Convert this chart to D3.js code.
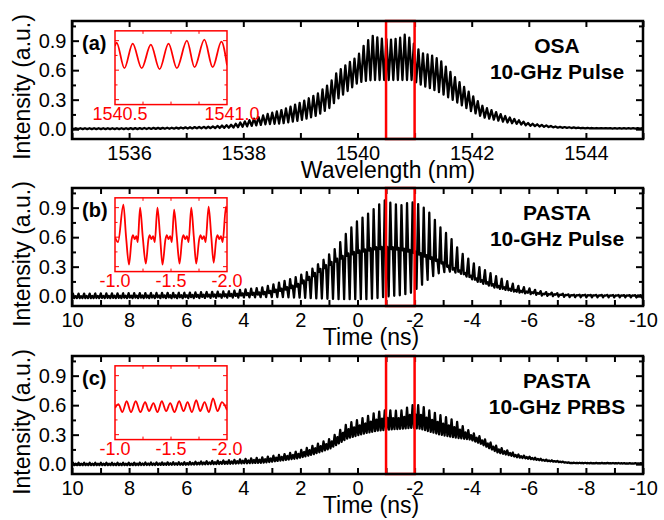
<!DOCTYPE html>
<html>
<head>
<meta charset="utf-8">
<script src="https://cdn.jsdelivr.net/npm/d3@7"></script>
<style>
  body { margin: 0; background: #fff; }
  svg { display: block; font-family: "Liberation Sans", Arial, sans-serif; }
</style>
</head>
<body>
<div id="plot"></div>
<script>
// ---- values ----

// (a) OSA spectrum: top and bottom of the 10-GHz comb lines
const wavelengthNm = [1535, 1536, 1536.8, 1537.4, 1537.8, 1538.1, 1538.4, 1538.7, 1539.0, 1539.3, 1539.52, 1539.64, 1539.81, 1540.0, 1540.13, 1540.26, 1540.42, 1540.6, 1540.75, 1540.85, 1540.95, 1541.05, 1541.15, 1541.3, 1541.45, 1541.6, 1541.75, 1542.0, 1542.2, 1542.6, 1543.0, 1543.5, 1544, 1545];
const osaPeak =   [0.01, 0.01, 0.015, 0.025, 0.045, 0.09, 0.15, 0.2, 0.27, 0.36, 0.47, 0.58, 0.66, 0.74, 0.87, 0.95, 0.92, 0.91, 0.93, 0.97, 0.9, 0.82, 0.77, 0.75, 0.7, 0.6, 0.5, 0.35, 0.23, 0.13, 0.06, 0.025, 0.012, 0.01];
const osaValley = [0.0, 0.0, 0.005, 0.01, 0.015, 0.03, 0.05, 0.06, 0.09, 0.14, 0.22, 0.3, 0.38, 0.47, 0.49, 0.5, 0.5, 0.5, 0.5, 0.5, 0.5, 0.47, 0.44, 0.41, 0.37, 0.32, 0.27, 0.18, 0.12, 0.07, 0.035, 0.015, 0.008, 0.005];

// (a) inset: turning points of the trace between 1540.5 and 1541.0 nm
const insetAWavelength = [1540.5, 1540.507, 1540.542, 1540.579, 1540.619, 1540.66, 1540.699, 1540.739, 1540.776, 1540.821, 1540.855, 1540.899, 1540.936, 1540.975, 1541.0];
const insetAIntensity =  [0.845, 0.88, 0.62, 0.87, 0.62, 0.86, 0.61, 0.87, 0.62, 0.9, 0.63, 0.91, 0.63, 0.89, 0.65];

// (b) PASTA, 10-GHz pulse: pulse tops, shoulder level and valleys
const pulseTime =     [10, 8, 6, 4.5, 3.3, 2.6, 2.1, 1.66, 1.19, 0.72, 0.37, 0.02, -0.33, -0.68, -0.91, -1.15, -1.5, -1.85, -2.2, -2.55, -2.9, -3.25, -3.6, -4.17, -4.87, -5.57, -6.5, -7.5, -10];
const pulsePeak =     [0.025, 0.03, 0.035, 0.05, 0.09, 0.15, 0.2, 0.26, 0.37, 0.5, 0.65, 0.76, 0.83, 0.91, 0.98, 0.95, 0.92, 0.96, 0.93, 0.84, 0.7, 0.6, 0.45, 0.31, 0.2, 0.11, 0.045, 0.015, 0.01];
const pulseShoulder = [0.0, 0.005, 0.01, 0.02, 0.04, 0.08, 0.12, 0.2, 0.3, 0.38, 0.43, 0.46, 0.48, 0.5, 0.5, 0.5, 0.49, 0.47, 0.44, 0.4, 0.36, 0.3, 0.26, 0.18, 0.11, 0.06, 0.025, 0.01, 0.007];
const pulseValley =   [-0.02, -0.02, -0.02, -0.015, -0.01, -0.01, -0.015, -0.02, -0.025, -0.03, -0.03, -0.03, -0.03, -0.02, -0.01, 0.0, 0.01, 0.03, 0.1, 0.19, 0.24, 0.25, 0.23, 0.15, 0.08, 0.045, 0.02, 0.008, 0.005];

// (b) inset: trace between -1.0 and -2.0 ns
const insetBTime = [-1.0, -1.027, -1.075, -1.099, -1.125, -1.149, -1.161, -1.176, -1.191, -1.203, -1.224, -1.248, -1.275, -1.299, -1.31, -1.325, -1.34, -1.355, -1.379, -1.403, -1.424, -1.451, -1.463, -1.478, -1.493, -1.507, -1.528, -1.552, -1.576, -1.6, -1.612, -1.627, -1.642, -1.657, -1.681, -1.704, -1.725, -1.752, -1.764, -1.779, -1.794, -1.809, -1.836, -1.86, -1.881, -1.904, -1.916, -1.931, -1.946, -1.961, -1.991, -2.0];
const insetBIntensity = [0.6, 0.55, 0.93, 0.6, 0.32, 0.58, 0.62, 0.58, 0.61, 0.55, 0.9, 0.6, 0.33, 0.58, 0.62, 0.58, 0.61, 0.55, 0.9, 0.6, 0.32, 0.58, 0.62, 0.58, 0.61, 0.55, 0.88, 0.6, 0.33, 0.58, 0.62, 0.58, 0.61, 0.55, 0.9, 0.6, 0.33, 0.58, 0.62, 0.58, 0.61, 0.55, 0.91, 0.6, 0.34, 0.58, 0.62, 0.58, 0.61, 0.55, 0.91, 0.85];

// (c) PASTA, 10-GHz PRBS: tops and valleys
const prbsTime =   [10, 8, 6, 4.46, 3.3, 2.6, 2.1, 1.55, 0.95, 0.37, -0.2, -0.68, -1.03, -1.5, -1.9, -2.2, -2.55, -2.9, -3.44, -3.95, -4.3, -4.9, -5.6, -6.5, -7.5, -10];
const prbsPeak =   [0.015, 0.015, 0.02, 0.04, 0.07, 0.1, 0.13, 0.19, 0.26, 0.41, 0.47, 0.53, 0.55, 0.54, 0.6, 0.6, 0.54, 0.5, 0.44, 0.33, 0.28, 0.18, 0.1, 0.05, 0.015, 0.01];
const prbsValley = [-0.01, -0.01, -0.005, 0.005, 0.015, 0.04, 0.06, 0.1, 0.16, 0.26, 0.31, 0.34, 0.35, 0.36, 0.37, 0.36, 0.33, 0.3, 0.27, 0.25, 0.21, 0.12, 0.07, 0.035, 0.01, 0.005];

// (c) inset
const insetCTime = [-1.0, -1.03, -1.066, -1.104, -1.143, -1.185, -1.227, -1.269, -1.304, -1.343, -1.379, -1.418, -1.457, -1.493, -1.531, -1.573, -1.612, -1.648, -1.687, -1.725, -1.761, -1.8, -1.839, -1.875, -1.916, -1.955, -2.0];
const insetCIntensity = [0.57, 0.61, 0.53, 0.64, 0.53, 0.64, 0.53, 0.63, 0.54, 0.62, 0.53, 0.64, 0.54, 0.62, 0.53, 0.64, 0.54, 0.63, 0.53, 0.65, 0.54, 0.63, 0.53, 0.67, 0.54, 0.63, 0.55];

// line spacing as it shows in the full-span traces, and where one line sits
const combSpacingNm = 0.08, combLineNm = 1540.507;
const pulseSpacingNs = 0.195, pulseLineNs = -1.15;

// axes
const wavelengthTicks = d3.range(1535, 1545.5, 1);
const wavelengthLabels = [1536, 1538, 1540, 1542, 1544];
const timeTicks = d3.range(-10, 10.5, 1);
const timeLabels = [10, 8, 6, 4, 2, 0, -2, -4, -6, -8, -10];
const intensityTicks = [0, 0.3, 0.6, 0.9];
const intensityMinor = [0.15, 0.45, 0.75, 1.05];
const zoomWindows = [[1540.5, 1541.0], [-1.0, -2.0], [-1.0, -2.0]];
const insetLabels = [[1540.5, 1541.0], [-1.0, -1.5, -2.0], [-1.0, -1.5, -2.0]];
const insetMinor = [[1540.625, 1540.75, 1540.875], [-1.25, -1.5, -1.75], [-1.25, -1.5, -1.75]];
const panelTags = ["(a)", "(b)", "(c)"];
const panelTitles = [["OSA", "10-GHz Pulse"], ["PASTA", "10-GHz Pulse"], ["PASTA", "10-GHz PRBS"]];

// ---- layout ----
const width = 664, height = 520;
const left = 72, right = 643;
const panelTops = [21, 188, 356];
const panelH = 118;
const red = "#ff0000";

const svg = d3.select("#plot").append("svg")
  .attr("width", width).attr("height", height);

// trace through each line top and valley of the envelopes;
// "shape" picks how the space between two tops is filled
function combTrace(domain, spacing, phase, peak, valley, shoulder, shape) {
  const lo = d3.min(domain), hi = d3.max(domain);
  const k0 = Math.floor((lo - phase) / spacing) - 1;
  const k1 = Math.ceil((hi - phase) / spacing) + 1;
  const pts = [];
  for (let k = k0; k <= k1; k++) {
    const c = phase + k * spacing;
    pts.push([c, peak(c)]);
    if (shape === "pulse") {
      const v = c + spacing * 0.3, s1 = c + spacing * 0.55, s2 = c + spacing * 0.8;
      pts.push([v, valley(v)], [s1, shoulder(s1)], [s2, shoulder(s2) - 0.02]);
    } else if (shape === "prbs") {
      const v1 = c + spacing * 0.25, s = c + spacing * 0.5, v2 = c + spacing * 0.75;
      pts.push([v1, valley(v1)], [s, valley(s) + 0.6 * (peak(s) - valley(s))], [v2, valley(v2)]);
    } else {
      const v = c + spacing / 2;
      pts.push([v, valley(v)]);
    }
  }
  return pts;
}

const env = (xs, ys) => d3.scaleLinear().domain(xs).range(ys).clamp(true);

const panels = [
  {
    domain: [1535, 1545], ticks: wavelengthTicks, labels: wavelengthLabels,
    trace: combTrace([1535, 1545], combSpacingNm, combLineNm,
      env(wavelengthNm, osaPeak), env(wavelengthNm, osaValley), null, "comb"),
    inset: insetAWavelength.map((d, i) => [d, insetAIntensity[i]]),
    title: "Wavelength (nm)", titleX: 388
  },
  {
    domain: [10, -10], ticks: timeTicks, labels: timeLabels,
    trace: combTrace([10, -10], pulseSpacingNs, pulseLineNs,
      env(pulseTime, pulsePeak), env(pulseTime, pulseValley), env(pulseTime, pulseShoulder), "pulse"),
    inset: insetBTime.map((d, i) => [d, insetBIntensity[i]]),
    title: "Time (ns)", titleX: 371
  },
  {
    domain: [10, -10], ticks: timeTicks, labels: timeLabels,
    trace: combTrace([10, -10], pulseSpacingNs, pulseLineNs,
      env(prbsTime, prbsPeak), env(prbsTime, prbsValley), null, "prbs"),
    inset: insetCTime.map((d, i) => [d, insetCIntensity[i]]),
    title: "Time (ns)", titleX: 371
  }
];

panels.forEach((p, i) => {
  const top = panelTops[i], bottom = top + panelH;
  const x = d3.scaleLinear().domain(p.domain).range([left, right]);
  const y = d3.scaleLinear().domain([-0.1, 1.1]).range([bottom, top]);
  const g = svg.append("g");

  g.append("clipPath").attr("id", "clip" + i)
    .append("rect").attr("x", left).attr("y", top)
    .attr("width", right - left).attr("height", panelH);

  // main trace
  g.append("path")
    .attr("clip-path", `url(#clip${i})`)
    .attr("d", d3.line().x(d => x(d[0])).y(d => y(d[1]))(p.trace))
    .attr("fill", "none").attr("stroke", "#000")
    .attr("stroke-width", 2.3).attr("stroke-linejoin", "round");

  // ticks, inward on all four sides
  const fmt = d => p.labels.includes(d) ? String(d) : "";
  const tickStyle = sel => {
    sel.select(".domain").remove();
    sel.selectAll("line").attr("stroke", "#000").attr("stroke-width", 2);
    sel.selectAll("text").attr("fill", "#000").style("font-size", "20px")
      .style("font-family", "'Liberation Sans', Arial, sans-serif");
  };
  g.append("g").attr("transform", `translate(0,${bottom})`)
    .call(d3.axisBottom(x).tickValues(p.ticks).tickFormat(fmt).tickSize(-6).tickPadding(7))
    .call(tickStyle);
  g.append("g").attr("transform", `translate(0,${top})`)
    .call(d3.axisTop(x).tickValues(p.ticks).tickFormat("").tickSize(-6))
    .call(tickStyle);
  g.append("g").attr("transform", `translate(${left},0)`)
    .call(d3.axisLeft(y).tickValues(intensityTicks).tickFormat(d3.format(".1f")).tickSize(-7).tickPadding(5.5))
    .call(tickStyle);
  g.append("g").attr("transform", `translate(${left},0)`)
    .call(d3.axisLeft(y).tickValues(intensityMinor).tickFormat("").tickSize(-4))
    .call(tickStyle);
  g.append("g").attr("transform", `translate(${right},0)`)
    .call(d3.axisRight(y).tickValues(intensityTicks).tickFormat("").tickSize(-7))
    .call(tickStyle);
  g.append("g").attr("transform", `translate(${right},0)`)
    .call(d3.axisRight(y).tickValues(intensityMinor).tickFormat("").tickSize(-4))
    .call(tickStyle);

  // highlighted window
  const zw = zoomWindows[i];
  g.append("rect")
    .attr("x", x(zw[0])).attr("y", top)
    .attr("width", x(zw[1]) - x(zw[0])).attr("height", panelH)
    .attr("fill", "none").attr("stroke", red).attr("stroke-width", 2.5);

  // frame
  g.append("rect")
    .attr("x", left).attr("y", top).attr("width", right - left).attr("height", panelH)
    .attr("fill", "none").attr("stroke", "#000").attr("stroke-width", 2.5);

  // inset, sharing the intensity scale of the panel
  const ix = d3.scaleLinear().domain(zw).range([115, 227]);
  const iy0 = y(1.0), iy1 = y(0.25);
  const ins = g.append("g");
  ins.append("clipPath").attr("id", "iclip" + i)
    .append("rect").attr("x", 115).attr("y", iy0).attr("width", 112).attr("height", iy1 - iy0);
  ins.append("rect").attr("x", 115).attr("y", iy0).attr("width", 112).attr("height", iy1 - iy0)
    .attr("fill", "#fff");
  ins.append("path")
    .attr("clip-path", `url(#iclip${i})`)
    .attr("d", d3.line().x(d => ix(d[0])).y(d => y(d[1])).curve(d3.curveMonotoneX)(p.inset))
    .attr("fill", "none").attr("stroke", red).attr("stroke-width", 1.8);
  const iticks = insetMinor[i];
  ins.selectAll(".itb").data(iticks).join("line")
    .attr("x1", d => ix(d)).attr("x2", d => ix(d)).attr("y1", iy1).attr("y2", iy1 - 3)
    .attr("stroke", red).attr("stroke-width", 1);
  ins.selectAll(".itt").data(iticks).join("line")
    .attr("x1", d => ix(d)).attr("x2", d => ix(d)).attr("y1", iy0).attr("y2", iy0 + 3)
    .attr("stroke", red).attr("stroke-width", 1);
  const iyt = intensityTicks.concat(intensityMinor).filter(v => v > 0.25 && v < 1.0);
  ins.selectAll(".itl").data(iyt).join("line")
    .attr("x1", 115).attr("x2", d => 115 + (intensityTicks.includes(d) ? 4 : 2.5))
    .attr("y1", d => y(d)).attr("y2", d => y(d))
    .attr("stroke", red).attr("stroke-width", 1);
  ins.selectAll(".itr").data(iyt).join("line")
    .attr("x1", 227).attr("x2", d => 227 - (intensityTicks.includes(d) ? 4 : 2.5))
    .attr("y1", d => y(d)).attr("y2", d => y(d))
    .attr("stroke", red).attr("stroke-width", 1);
  ins.append("rect").attr("x", 115).attr("y", iy0).attr("width", 112).attr("height", iy1 - iy0)
    .attr("fill", "none").attr("stroke", red).attr("stroke-width", 1.5);
  ins.selectAll(".ilab").data(insetLabels[i]).join("text")
    .attr("x", d => ix(d) + (i === 0 ? 5 : 0)).attr("y", iy1 + 15)
    .attr("text-anchor", "middle").attr("fill", red).style("font-size", "18px")
    .text(d => d.toFixed(1));

  // texts
  g.append("text").attr("x", 82).attr("y", top + 28.5)
    .style("font-size", "20px").style("font-weight", "bold").text(panelTags[i]);
  panelTitles[i].forEach((t, j) => {
    g.append("text").attr("x", 557).attr("y", top + (j === 0 ? 31.5 : 58))
      .attr("text-anchor", "middle").style("font-size", "21px").style("font-weight", "bold")
      .text(t);
  });
  g.append("text").attr("x", p.titleX).attr("y", bottom + 39)
    .attr("text-anchor", "middle").style("font-size", "23px").text(p.title);
  g.append("text")
    .attr("transform", `translate(30,${top + 66}) rotate(-90)`)
    .attr("text-anchor", "middle").style("font-size", "23px").text("Intensity (a.u.)");
});
</script>
</body>
</html>
